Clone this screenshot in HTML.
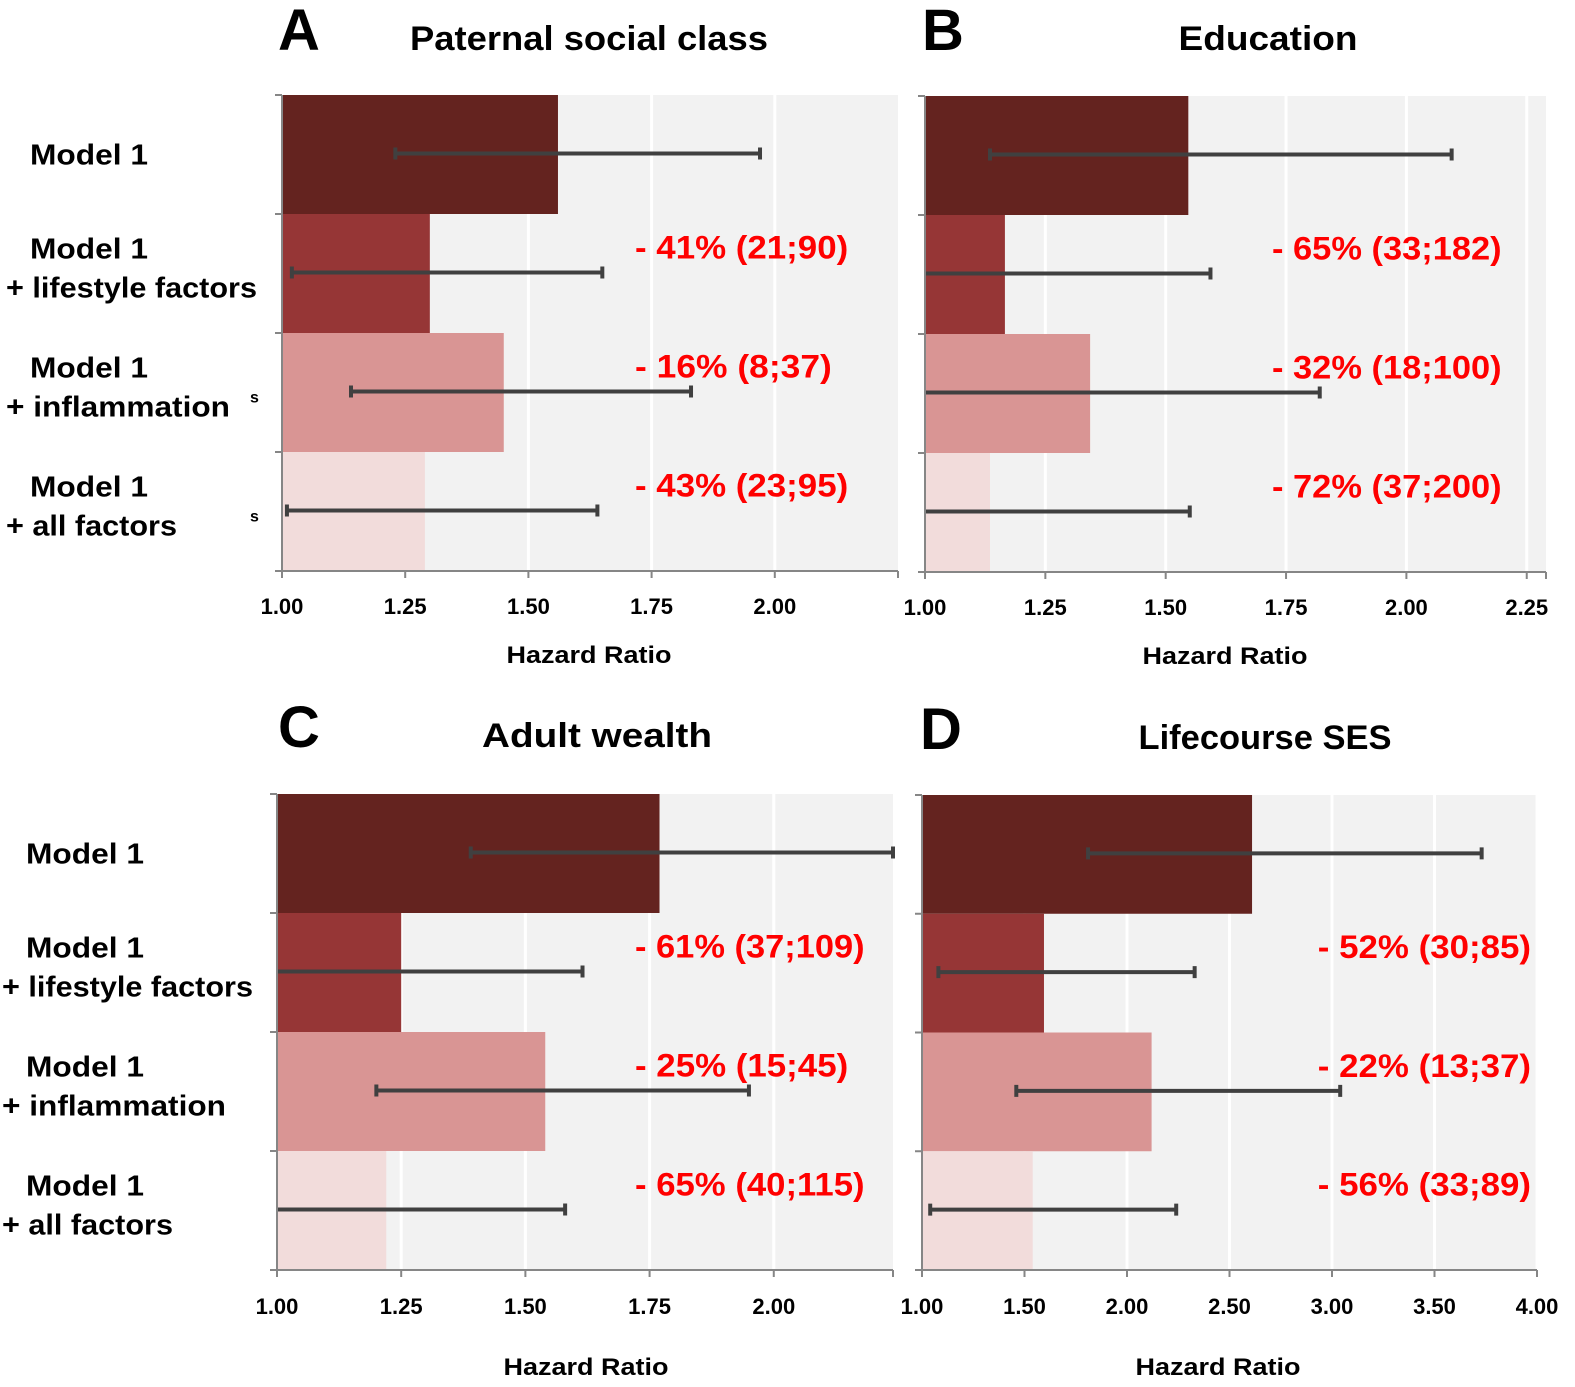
<!DOCTYPE html>
<html><head><meta charset="utf-8"><style>
html,body{margin:0;padding:0;background:#fff;}
svg{display:block;font-family:"Liberation Sans",sans-serif;font-weight:bold;}
</style></head><body>
<svg id="fig" width="1575" height="1387" viewBox="0 0 1575 1387" xmlns="http://www.w3.org/2000/svg"></svg>
<script>
// Data (hazard ratios, CI bounds, attenuation labels)
const models = ["Model 1", "+ lifestyle factors", "+ inflammation", "+ all factors"];
const hrA = [1.56, 1.30, 1.45, 1.29];
const loA = [1.23, 1.02, 1.14, 1.01];
const hiA = [1.97, 1.65, 1.83, 1.64];
const annA = ["- 41% (21;90)", "- 16% (8;37)", "- 43% (23;95)"];
const ticksA = [1.00, 1.25, 1.50, 1.75, 2.00];
const hrB = [1.547, 1.166, 1.343, 1.135];
const loB = [1.135, 1.0, 1.0, 1.0];
const hiB = [2.094, 1.593, 1.82, 1.55];
const annB = ["- 65% (33;182)", "- 32% (18;100)", "- 72% (37;200)"];
const ticksB = [1.00, 1.25, 1.50, 1.75, 2.00, 2.25];
const hrC = [1.77, 1.25, 1.54, 1.22];
const loC = [1.39, 1.0, 1.20, 1.0];
const hiC = [2.24, 1.615, 1.95, 1.58];
const annC = ["- 61% (37;109)", "- 25% (15;45)", "- 65% (40;115)"];
const ticksC = [1.00, 1.25, 1.50, 1.75, 2.00];
const hrD = [2.61, 1.595, 2.12, 1.54];
const loD = [1.81, 1.08, 1.46, 1.04];
const hiD = [3.73, 2.33, 3.04, 2.24];
const annD = ["- 52% (30;85)", "- 22% (13;37)", "- 56% (33;89)"];
const ticksD = [1.00, 1.50, 2.00, 2.50, 3.00, 3.50, 4.00];

const NS = "http://www.w3.org/2000/svg";
const svg = document.getElementById("fig");
const colors = ["#64231f", "#963636", "#d99594", "#f2dcdb"];
function mk(tag, attrs, parent) {
  const e = document.createElementNS(NS, tag);
  for (const k in attrs) e.setAttribute(k, attrs[k]);
  (parent || svg).appendChild(e);
  return e;
}
function txt(s, attrs, parent) { const t = mk("text", attrs, parent); t.textContent = s; return t; }

const panels = [
  {id:"a", letter:"A", title:"Paternal social class", tl:358, tcx:589, ty:50, lx:278, x0:282, x1:898, dmin:1, dmax:2.25, y0:95, y1:571, hr:hrA, lo:loA, hi:hiA, ann:annA, ticks:ticksA, annX:635, annAnchor:"start", labX:30, labW:[118,251,224,171], axcx:589, axy:663, tky:614, dots:true},
  {id:"b", letter:"B", title:"Education", tl:179, tcx:1268, ty:50, lx:922, x0:925, x1:1546, dmin:1, dmax:2.29, y0:96, y1:572, hr:hrB, lo:loB, hi:hiB, ann:annB, ticks:ticksB, annX:1272, annAnchor:"start", labX:null, axcx:1225, axy:664, tky:615},
  {id:"c", letter:"C", title:"Adult wealth", tl:230, tcx:597, ty:747, lx:278, x0:277, x1:893, dmin:1, dmax:2.24, y0:794, y1:1270, hr:hrC, lo:loC, hi:hiC, ann:annC, ticks:ticksC, annX:635, annAnchor:"start", labX:26, labW:[118,251,224,171], axcx:586, axy:1375, tky:1314},
  {id:"d", letter:"D", title:"Lifecourse SES", tl:253, tcx:1265, ty:749, lx:920, x0:922, x1:1537, dmin:1, dmax:4.0, y0:795, y1:1270, hr:hrD, lo:loD, hi:hiD, ann:annD, ticks:ticksD, annX:1531, annAnchor:"end", labX:null, axcx:1218, axy:1375, tky:1314}
];

panels.forEach(p => {
  const g = mk("g", {});
  
  
  const xs = v => p.x0 + (v - p.dmin) / (p.dmax - p.dmin) * (p.x1 - p.x0);
  const band = (p.y1 - p.y0) / p.hr.length;
  const ys = i => p.y0 + i * band;

  const L = txt(p.letter, {x:p.lx, y:p.ty, "font-size":58, fill:"#000"}, g);
  
  
  const T = txt(p.title, {x:p.tcx, y:p.ty, "font-size":34, "text-anchor":"middle", textLength:p.tl, lengthAdjust:"spacingAndGlyphs", fill:"#000"}, g);
  
  

  const bg = mk("rect", {x:p.x0, y:p.y0, width:p.x1 - p.x0, height:p.y1 - p.y0, fill:"#f2f2f2"}, g);
  
  
  p.ticks.forEach((t, k) => {
    if (k > 0) {
      const gl = mk("line", {x1:xs(t), x2:xs(t), y1:p.y0, y2:p.y1, stroke:"#fff", "stroke-width":3}, g);
      
      
    }
  });

  p.hr.forEach((v, i) => {
    const r = mk("rect", {x:xs(p.dmin), y:ys(i), width:xs(v) - xs(p.dmin), height:band, fill:colors[i]}, g);
    
    
  });
  p.hr.forEach((v, i) => {
    const cy = ys(i) + band / 2 - 1;
    const a = xs(Math.max(p.lo[i], p.dmin)), b = xs(Math.min(p.hi[i], p.dmax));
    const eg = mk("g", {stroke:"#404040", "stroke-width":4}, g);
    
    
    mk("line", {x1:a, x2:b, y1:cy, y2:cy}, eg);
    if (p.lo[i] > p.dmin + 0.005) mk("line", {x1:a, x2:a, y1:cy - 6, y2:cy + 6}, eg);
    mk("line", {x1:b, x2:b, y1:cy - 6, y2:cy + 6}, eg);
  });

  const ya = mk("line", {x1:p.x0, x2:p.x0, y1:p.y0, y2:p.y1, stroke:"#868686", "stroke-width":2}, g);
  
  
  for (let i = 0; i <= p.hr.length; i++) mk("line", {x1:p.x0 - 7, x2:p.x0, y1:ys(i), y2:ys(i), stroke:"#868686", "stroke-width":2}, g);
  const xa = mk("line", {x1:p.x0, x2:p.x1, y1:p.y1, y2:p.y1, stroke:"#868686", "stroke-width":2}, g);
  
  
  p.ticks.forEach(t => {
    mk("line", {x1:xs(t), x2:xs(t), y1:p.y1, y2:p.y1 + 7, stroke:"#868686", "stroke-width":2}, g);
    const tl = txt(t.toFixed(2), {x:xs(t), y:p.tky, "font-size":22, "text-anchor":"middle", fill:"#000"}, g);
    
    
  });
  mk("line", {x1:p.x1, x2:p.x1, y1:p.y1, y2:p.y1 + 7, stroke:"#868686", "stroke-width":2}, g);
  const at = txt("Hazard Ratio", {x:p.axcx, y:p.axy, "font-size":24, "text-anchor":"middle", textLength:165, lengthAdjust:"spacingAndGlyphs", fill:"#000"}, g);
  
  

  p.ann.forEach((s, j) => {
    const cy = ys(j + 1) + band * 0.28 + 11;
    const a = txt(s, {x:p.annX, y:cy, "font-size":32, fill:"#ff0000", "text-anchor":p.annAnchor, textLength:(s.length * 16.4), lengthAdjust:"spacingAndGlyphs"}, g);
    
    
  });

  if (p.labX !== null) {
    models.forEach((m, i) => {
      const cy = ys(i) + band / 2;
      if (i === 0) {
        const t = txt(m, {x:p.labX, y:cy + 10, "font-size":29, fill:"#000", textLength:p.labW[0], lengthAdjust:"spacingAndGlyphs"}, g);
        
        
      } else {
        const t1 = txt("Model 1", {x:p.labX, y:cy - 15, "font-size":29, fill:"#000", textLength:p.labW[0], lengthAdjust:"spacingAndGlyphs"}, g);
        
        
        const t2 = txt(m, {x:p.labX - 24, y:cy + 24, "font-size":29, fill:"#000", textLength:p.labW[i], lengthAdjust:"spacingAndGlyphs"}, g);
        
        
      }
    });
    if (p.dots) {
      [2, 3].forEach(i => {
        const s = txt("s", {x:250, y:ys(i) + band / 2 + 10, "font-size":16, fill:"#000"}, g);
        
        
      });
    }
  }
});
</script>
</body></html>
